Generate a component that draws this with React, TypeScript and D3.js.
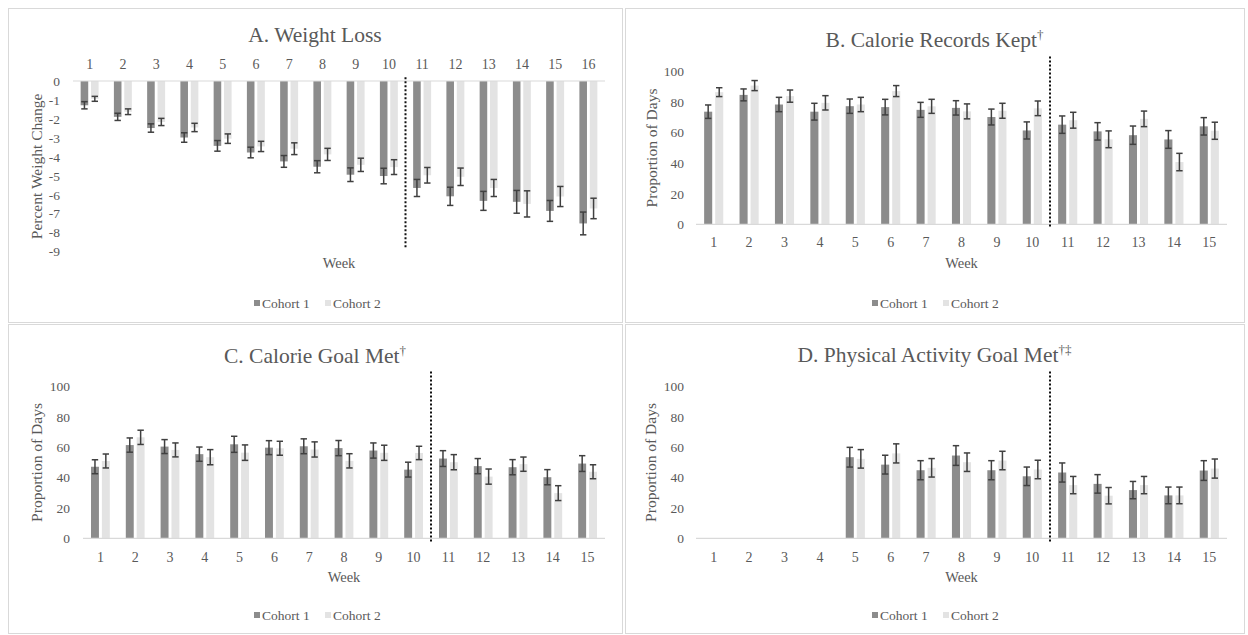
import React, { useEffect, useRef } from "react";
import * as d3 from "d3";

// weeks on the x axis
const weeks16 = ["1", "2", "3", "4", "5", "6", "7", "8", "9", "10", "11", "12", "13", "14", "15", "16"];
const weeks15 = ["1", "2", "3", "4", "5", "6", "7", "8", "9", "10", "11", "12", "13", "14", "15"];

const seriesNames = ["Cohort 1", "Cohort 2"];

// A. Weight loss (percent change)
const lossCohort1 = [-1.28, -1.89, -2.48, -2.98, -3.42, -3.77, -4.24, -4.52, -4.94, -5.01, -5.64, -6.08, -6.32, -6.37, -6.85, -7.51];
const lossCohort1Err = [0.19, 0.19, 0.22, 0.25, 0.28, 0.28, 0.31, 0.32, 0.36, 0.41, 0.45, 0.48, 0.5, 0.6, 0.55, 0.6];
const lossCohort2 = [-0.94, -1.62, -2.16, -2.45, -3.04, -3.45, -3.57, -3.87, -4.42, -4.54, -4.97, -5.05, -5.64, -6.48, -6.09, -6.72];
const lossCohort2Err = [0.13, 0.15, 0.19, 0.22, 0.25, 0.27, 0.31, 0.32, 0.35, 0.39, 0.41, 0.46, 0.45, 0.69, 0.53, 0.54];
const lossTicks = [0, -1, -2, -3, -4, -5, -6, -7, -8, -9];

// B. Calorie records kept
const recordsCohort1 = [73.8, 84.8, 78.5, 73.8, 77.4, 76.8, 75, 76.3, 70.3, 61.5, 65.3, 60.9, 58.4, 55.6, 64.2];
const recordsCohort1Err = [4.4, 3.9, 4.7, 5.5, 4.7, 5.1, 4.9, 4.7, 5.2, 5.6, 5.7, 5.7, 6, 5.8, 5.7];
const recordsCohort2 = [86.6, 90.9, 84, 79.6, 78.5, 87.3, 77.3, 74, 74.4, 76, 68.2, 55.7, 69.1, 40.8, 61.3];
const recordsCohort2Err = [2.9, 3.3, 4, 4.7, 4.7, 3.6, 4.6, 4.9, 4.9, 4.8, 5.2, 5.5, 5.1, 5.7, 5.6];

// C. Calorie goal met
const calGoalCohort1 = [47.2, 61.5, 60.5, 55.5, 62, 59.8, 60.7, 59.5, 57.9, 45.3, 52.6, 47.6, 46.9, 40.3, 49.3];
const calGoalCohort1Err = [4.6, 4.7, 4.6, 4.7, 5.3, 4.6, 4.9, 5, 5, 4.9, 5.2, 5, 5, 5, 5.2];
const calGoalCohort2 = [51, 66.6, 58.3, 53.5, 56.5, 59.4, 58.6, 51.1, 56.4, 56.3, 50.2, 40.7, 48.9, 29.8, 43.9];
const calGoalCohort2Err = [4.6, 4.7, 4.6, 5, 5.1, 4.6, 5, 4.7, 5, 4.4, 5, 5, 4.7, 4.9, 4.6];

// D. Physical activity goal met (not tracked weeks 1-4)
const paGoalCohort1 = [null, null, null, null, 53.5, 48.6, 44.9, 54.6, 44.9, 40.9, 43.4, 35.9, 31.8, 28.3, 44.7];
const paGoalCohort1Err = [null, null, null, null, 6.5, 6.2, 6.3, 6.5, 6.3, 6.1, 6.3, 6.1, 5.7, 5.5, 6.5];
const paGoalCohort2 = [null, null, null, null, 52.4, 56, 46.5, 50.2, 51.3, 45.4, 35.1, 28.1, 35.1, 28.3, 46];
const paGoalCohort2Err = [null, null, null, null, 6.1, 6.3, 6.1, 6.1, 6.1, 6.1, 5.7, 5.4, 5.7, 5.5, 6.3];

const proportionTicks = [0, 20, 40, 60, 80, 100];

const colors = ["#8c8c8c", "#e3e3e3"];
const textColor = "#595959";
const font = "'Liberation Serif', 'Times New Roman', serif";

const panels = [
    {
        title: "A. Weight Loss", sup: "", box: [8, 8, 614, 314],
        cats: weeks16, values: [lossCohort1, lossCohort2], errs: [lossCohort1Err, lossCohort2Err],
        x0: 73, x1: 605, yDomain: [-9, 0], yRange: [251.7, 81], ticks: lossTicks,
        tickX: 60, yTitle: "Percent Weight Change", yTitleX: 37, titleY: 42,
        catLabelY: 64, weekY: 263, legendY: 303, legendCx: 318, dotted: [0.2, -8.8]
    },
    {
        title: "B. Calorie Records Kept", sup: "\u2020", box: [625, 8, 619, 314],
        cats: weeks15, values: [recordsCohort1, recordsCohort2], errs: [recordsCohort1Err, recordsCohort2Err],
        x0: 696, x1: 1227, yDomain: [0, 100], yRange: [224.3, 71.7], ticks: proportionTicks,
        tickX: 684, yTitle: "Proportion of Days", yTitleX: 652, titleY: 47,
        catLabelY: 242, weekY: 263, legendY: 303, legendCx: 936, dotted: [110, -2.5]
    },
    {
        title: "C. Calorie Goal Met", sup: "\u2020", box: [8, 324, 614, 309],
        cats: weeks15, values: [calGoalCohort1, calGoalCohort2], errs: [calGoalCohort1Err, calGoalCohort2Err],
        x0: 83, x1: 605, yDomain: [0, 100], yRange: [538.3, 386.7], ticks: proportionTicks,
        tickX: 70, yTitle: "Proportion of Days", yTitleX: 37, titleY: 363,
        catLabelY: 557, weekY: 577, legendY: 615, legendCx: 318, dotted: [110, -2.5]
    },
    {
        title: "D. Physical Activity Goal Met", sup: "\u2020\u2021", box: [625, 324, 619, 309],
        cats: weeks15, values: [paGoalCohort1, paGoalCohort2], errs: [paGoalCohort1Err, paGoalCohort2Err],
        x0: 696, x1: 1227, yDomain: [0, 100], yRange: [538.3, 386.7], ticks: proportionTicks,
        tickX: 684, yTitle: "Proportion of Days", yTitleX: 651, titleY: 362,
        catLabelY: 557, weekY: 577, legendY: 615, legendCx: 936, dotted: [110, -2.5]
    }
];

function drawPanel(svg, p) {
    const g = svg.append("g");

    g.append("rect")
        .attr("x", p.box[0] + 0.5).attr("y", p.box[1] + 0.5)
        .attr("width", p.box[2]).attr("height", p.box[3])
        .attr("fill", "#fff").attr("stroke", "#d9d9d9").attr("stroke-width", 1);

    const xScale = d3.scaleBand().domain(p.cats).range([p.x0, p.x1]);
    const step = xScale.bandwidth();
    const inner = d3.scaleBand()
        .domain(seriesNames)
        .range([-step * 0.27, step * 0.27])
        .paddingInner(0.27);
    const yScale = d3.scaleLinear().domain(p.yDomain).range(p.yRange);
    const y0 = yScale(0);

    // title
    const title = g.append("text")
        .attr("x", (p.box[0] * 2 + p.box[2]) / 2)
        .attr("y", p.titleY)
        .attr("text-anchor", "middle")
        .style("font-family", font).style("font-size", "21.5px")
        .attr("fill", textColor)
        .text(p.title);
    if (p.sup) {
        title.append("tspan").attr("dy", -8).style("font-size", "13px").text(p.sup);
    }

    // y tick labels
    g.selectAll(".ytick").data(p.ticks).join("text")
        .attr("x", p.tickX).attr("y", d => yScale(d))
        .attr("dy", "0.35em").attr("text-anchor", "end")
        .style("font-family", font).style("font-size", "13.5px")
        .attr("fill", textColor)
        .text(d => d);

    // y title
    g.append("text")
        .attr("transform", `translate(${p.yTitleX},${(p.yRange[0] + p.yRange[1]) / 2}) rotate(-90)`)
        .attr("text-anchor", "middle").attr("dy", "0.35em")
        .style("font-family", font).style("font-size", "15.5px")
        .attr("fill", textColor)
        .text(p.yTitle);

    // bars
    p.values.forEach((vals, si) => {
        g.append("g").selectAll("rect").data(vals.map((v, i) => ({ v, cat: p.cats[i] })).filter(d => d.v !== null))
            .join("rect")
            .attr("x", d => xScale(d.cat) + step / 2 + inner(seriesNames[si]))
            .attr("width", inner.bandwidth())
            .attr("y", d => Math.min(yScale(d.v), y0))
            .attr("height", d => Math.abs(yScale(d.v) - y0))
            .attr("fill", colors[si]);
    });

    // zero line
    g.append("line")
        .attr("x1", p.x0).attr("x2", p.x1).attr("y1", y0).attr("y2", y0)
        .attr("stroke", "#d9d9d9").attr("stroke-width", 1.2);

    // error bars
    p.values.forEach((vals, si) => {
        const errs = p.errs[si];
        const data = vals.map((v, i) => ({ v, e: errs[i], cat: p.cats[i] })).filter(d => d.v !== null);
        const cx = d => xScale(d.cat) + step / 2 + inner(seriesNames[si]) + inner.bandwidth() / 2;
        const eg = g.append("g").attr("stroke", "#404040").attr("stroke-width", 1.5).attr("fill", "none");
        eg.selectAll(".stem").data(data).join("line")
            .attr("x1", cx).attr("x2", cx)
            .attr("y1", d => yScale(d.v - d.e)).attr("y2", d => yScale(d.v + d.e));
        eg.selectAll(".capTop").data(data).join("line")
            .attr("x1", d => cx(d) - 3.2).attr("x2", d => cx(d) + 3.2)
            .attr("y1", d => yScale(d.v + d.e)).attr("y2", d => yScale(d.v + d.e));
        eg.selectAll(".capBottom").data(data).join("line")
            .attr("x1", d => cx(d) - 3.2).attr("x2", d => cx(d) + 3.2)
            .attr("y1", d => yScale(d.v - d.e)).attr("y2", d => yScale(d.v - d.e));
    });

    // dotted separator between week 10 and 11
    const sepX = xScale("11");
    g.append("line")
        .attr("x1", sepX).attr("x2", sepX)
        .attr("y1", yScale(p.dotted[0])).attr("y2", yScale(p.dotted[1]))
        .attr("stroke", "#111").attr("stroke-width", 2).attr("stroke-dasharray", "2,2");

    // week labels
    g.selectAll(".xtick").data(p.cats).join("text")
        .attr("x", d => xScale(d) + step / 2).attr("y", p.catLabelY)
        .attr("dy", "0.35em").attr("text-anchor", "middle")
        .style("font-family", font).style("font-size", "14px")
        .attr("fill", textColor)
        .text(d => d);

    g.append("text")
        .attr("x", (p.x0 + p.x1) / 2).attr("y", p.weekY)
        .attr("dy", "0.35em").attr("text-anchor", "middle")
        .style("font-family", font).style("font-size", "14.5px")
        .attr("fill", textColor)
        .text("Week");

    // legend
    const legend = g.append("g");
    seriesNames.forEach((name, i) => {
        const lx = p.legendCx - 64 + i * 71;
        legend.append("rect")
            .attr("x", lx).attr("y", p.legendY - 3).attr("width", 6).attr("height", 6)
            .attr("fill", colors[i]);
        legend.append("text")
            .attr("x", lx + 8).attr("y", p.legendY)
            .attr("dy", "0.35em")
            .style("font-family", font).style("font-size", "13.5px")
            .attr("fill", textColor)
            .text(name);
    });
}

const App = () => {
    const ref = useRef(null);

    useEffect(() => {
        const svg = d3.select(ref.current);
        svg.selectAll("*").remove();
        panels.forEach(p => drawPanel(svg, p));
    }, []);

    return (
        <svg
            ref={ref}
            width={1248}
            height={635}
            style={{ position: "absolute", left: 0, top: 0, background: "#fff" }}
        />
    );
};

export default App;
